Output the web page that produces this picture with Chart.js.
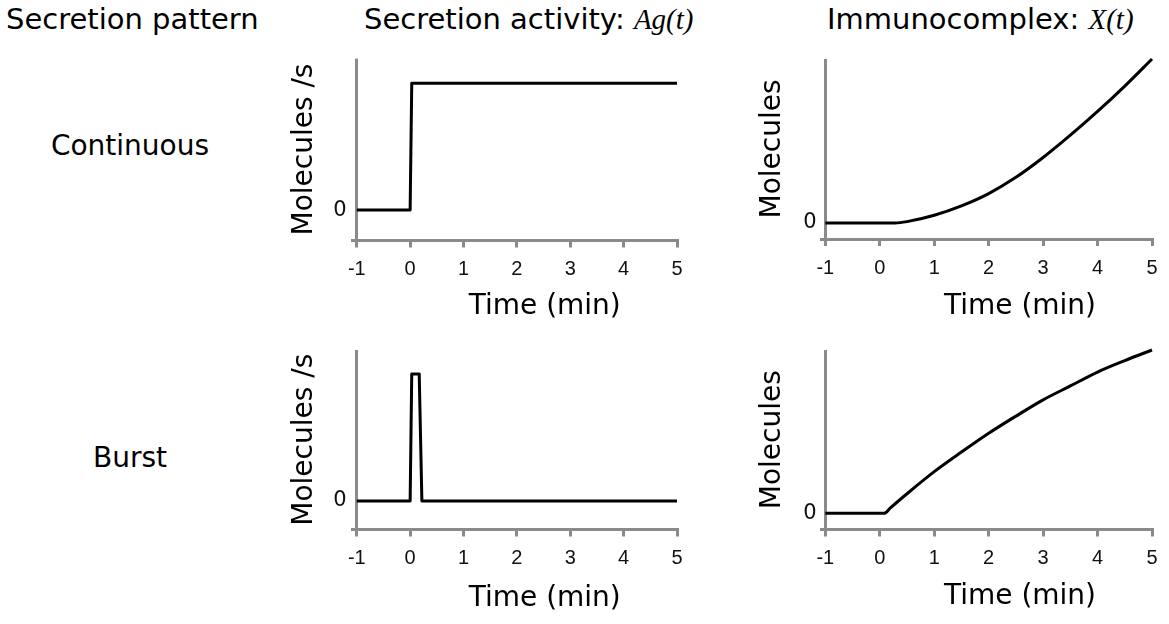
<!DOCTYPE html>
<html>
<head>
<meta charset="utf-8">
<title>Secretion pattern and immunocomplex formation</title>
<script src="https://cdn.jsdelivr.net/npm/chart.js@4.4.1/dist/chart.umd.min.js"></script>
<style>
  html, body { margin: 0; padding: 0; background: #fff; }
  body { width: 1169px; height: 624px; position: relative; overflow: hidden;
         font-family: "DejaVu Sans", Verdana, sans-serif; color: #000; }
  .lbl { position: absolute; font-size: 28px; line-height: 28px; white-space: nowrap; }
  .head { font-size: 29px; line-height: 29px; }
  .lbl i { font-family: "Liberation Serif", "Times New Roman", serif; }
  .row { width: 200px; text-align: center; }
  canvas { position: absolute; }
</style>
</head>
<body>
<div class="lbl head" style="left:6px; top:5px;">Secretion pattern</div>
<div class="lbl head" style="left:364px; top:5px;">Secretion activity: <i>Ag(t)</i></div>
<div class="lbl head" style="left:827px; top:5px;">Immunocomplex: <i>X(t)</i></div>
<div class="lbl row" style="left:30px; top:132px;">Continuous</div>
<div class="lbl row" style="left:30px; top:444px;">Burst</div>

<canvas id="contAg" width="430" height="290" style="left:270px; top:40px;"></canvas>
<canvas id="contX" width="429" height="290" style="left:740px; top:40px;"></canvas>
<canvas id="burstAg" width="430" height="294" style="left:270px; top:330px;"></canvas>
<canvas id="burstX" width="429" height="294" style="left:740px; top:330px;"></canvas>

<script>
// Time axis ticks (minutes) and the single labelled level on the value axis
const timeTicks = [-1, 0, 1, 2, 3, 4, 5];
const valueTicks = [0];

// Secretion activity Ag(t), continuous secretion (relative rate)
const contAgTime = [-1, 0, 0.03, 5];
const contAgRate = [0, 0, 1, 1];

// Secretion activity Ag(t), single burst (relative rate)
const burstAgTime = [-1, 0, 0.03, 0.17, 0.22, 5];
const burstAgRate = [0, 0, 1, 1, 0, 0];

// Immunocomplex X(t), continuous secretion (relative amount)
const contXTime = [-1, 0, 0.28, 0.5, 1, 1.5, 2, 2.5, 3, 3.5, 4, 4.5, 5];
const contXLevel = [0, 0, 0, 0.008, 0.047, 0.104, 0.179, 0.278, 0.399, 0.535, 0.68, 0.835, 1.0];

// Immunocomplex X(t), single burst (relative amount)
const burstXTime = [-1, 0, 0.08, 0.2, 0.5, 1, 1.5, 2, 2.5, 3, 3.5, 4, 4.5, 5];
const burstXLevel = [0, 0, 0, 0.035, 0.12, 0.255, 0.375, 0.49, 0.595, 0.695, 0.78, 0.865, 0.935, 1.0];

const AXIS_GREY = '#8a8a8a';
const TIME_START = -1.08;

// Axis captions placed relative to the plot area
const axisCaptions = {
  id: 'axisCaptions',
  afterDraw(chart, args, o) {
    const { ctx, chartArea: a } = chart;
    ctx.save();
    ctx.fillStyle = '#000';
    ctx.font = '28px "DejaVu Sans", Verdana, sans-serif';
    ctx.textAlign = 'center';
    ctx.textBaseline = 'middle';
    ctx.fillText(o.xText, (a.left + a.right) / 2 + o.xShift, a.bottom + o.xDrop);
    ctx.translate(a.left - o.yGap, (a.top + a.bottom) / 2);
    ctx.rotate(-Math.PI / 2);
    ctx.fillText(o.yText, 0, 0);
    ctx.restore();
  }
};

function drawPanel(id, times, values, cfg) {
  const points = times.map((t, i) => ({ x: t, y: values[i] }));
  new Chart(document.getElementById(id), {
    type: 'line',
    data: {
      datasets: [{
        data: points,
        borderColor: '#000',
        borderWidth: 3,
        pointRadius: 0,
        fill: false,
        tension: 0,
        cubicInterpolationMode: cfg.smooth ? 'monotone' : 'default',
        borderJoinStyle: 'round',
        clip: false
      }]
    },
    options: {
      responsive: false,
      animation: false,
      events: [],
      layout: { padding: { top: cfg.padTop, right: cfg.padRight, left: 0, bottom: 0 } },
      plugins: {
        legend: { display: false },
        tooltip: { enabled: false },
        axisCaptions: {
          xText: 'Time (min)', xShift: cfg.xShift, xDrop: cfg.xDrop,
          yText: cfg.yText, yGap: 48
        }
      },
      scales: {
        x: {
          type: 'linear',
          min: TIME_START,
          max: 5,
          afterBuildTicks: s => { s.ticks = timeTicks.map(v => ({ value: v })); },
          afterFit: s => { s.height = cfg.xHeight; },
          border: { display: true, color: AXIS_GREY, width: 3 },
          grid: {
            drawOnChartArea: true,
            color: c => (c.tick && c.tick.value === -1 ? AXIS_GREY : 'rgba(0,0,0,0)'),
            lineWidth: 3,
            drawTicks: true,
            tickLength: 7,
            tickColor: AXIS_GREY,
            tickWidth: 3
          },
          ticks: {
            font: { family: '"Liberation Sans", Arial, sans-serif', size: 20 },
            color: '#111',
            padding: 10,
            maxRotation: 0,
            autoSkip: false
          }
        },
        y: {
          type: 'linear',
          min: cfg.yMin,
          max: cfg.yMax,
          afterBuildTicks: s => { s.ticks = valueTicks.map(v => ({ value: v })); },
          afterFit: s => { s.width = cfg.yWidth; },
          border: { display: false },
          grid: { display: false, drawTicks: false },
          ticks: {
            font: { family: '"DejaVu Sans", Verdana, sans-serif', size: 21 },
            color: '#111',
            padding: cfg.yPad
          }
        }
      }
    },
    plugins: [axisCaptions]
  });
}

drawPanel('contAg', contAgTime, contAgRate, {
  smooth: false, yText: 'Molecules /s', yMin: -0.24, yMax: 1.195,
  padTop: 18, padRight: 23, yWidth: 82.5, xHeight: 89.5, yPad: 6, xShift: 30, xDrop: 66
});
drawPanel('contX', contXTime, contXLevel, {
  smooth: true, yText: 'Molecules', yMin: -0.098, yMax: 1.0,
  padTop: 19, padRight: 17, yWidth: 81, xHeight: 91, yPad: 4.5, xShift: 33.5, xDrop: 67.5
});
drawPanel('burstAg', burstAgTime, burstAgRate, {
  smooth: false, yText: 'Molecules /s', yMin: -0.225, yMax: 1.19,
  padTop: 20, padRight: 23, yWidth: 82.5, xHeight: 94.5, yPad: 6, xShift: 30, xDrop: 69
});
drawPanel('burstX', burstXTime, burstXLevel, {
  smooth: true, yText: 'Molecules', yMin: -0.099, yMax: 1.0,
  padTop: 20, padRight: 17, yWidth: 81, xHeight: 94.5, yPad: 4.5, xShift: 33.5, xDrop: 67
});
</script>
</body>
</html>
